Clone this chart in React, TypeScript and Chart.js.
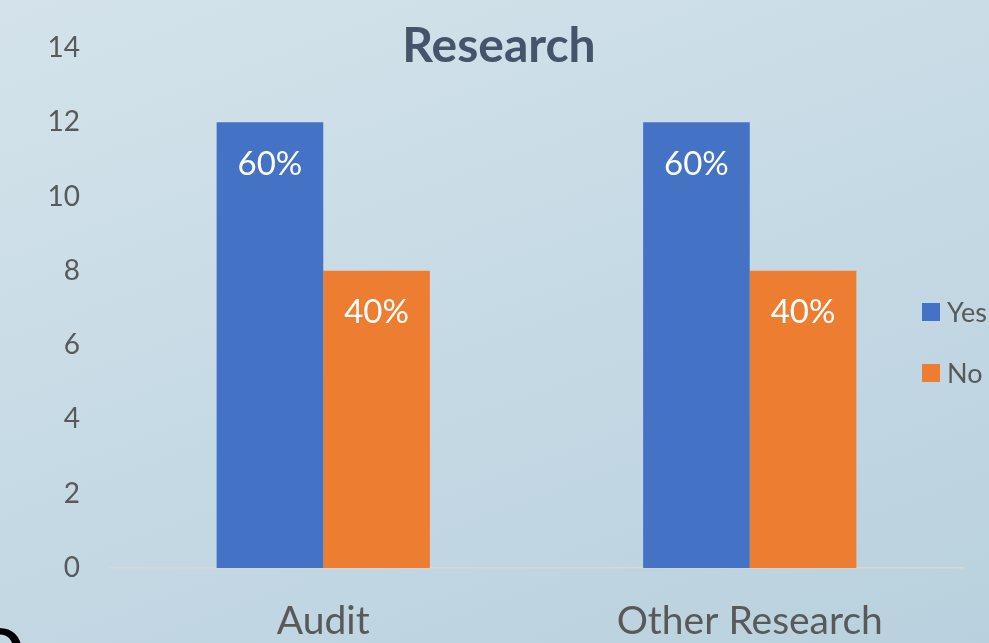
import React, { useEffect, useRef } from "react";
import { Chart, registerables } from "chart.js";

Chart.register(...registerables);

const categories = ["Audit", "Other Research"];
const yesValues = [12, 12];
const noValues = [8, 8];
const seriesLabels = ["Yes", "No"];
const yTicks = [0, 2, 4, 6, 8, 10, 12, 14];
const chartTitle = "Research";

const FONT = "Lato, 'Open Sans', sans-serif";
const BLUE = "#4472C4";
const ORANGE = "#ED7D31";
const GREY = "#595959";

const overlayPlugin = {
  id: "overlay",
  afterDatasetsDraw(chart: any) {
    const ctx = chart.ctx;
    const ds = chart.data.datasets;
    ctx.save();
    ctx.fillStyle = "#FFFFFF";
    ctx.font = `33px ${FONT}`;
    ctx.textAlign = "center";
    ctx.textBaseline = "middle";
    ds.forEach((d: any, di: number) => {
      const meta = chart.getDatasetMeta(di);
      meta.data.forEach((el: any, i: number) => {
        const total = ds.reduce((s: number, dd: any) => s + dd.data[i], 0);
        const pct = Math.round((d.data[i] / total) * 100) + "%";
        ctx.fillText(pct, el.x, el.y + 42);
      });
    });
    ctx.restore();
  },
  afterDraw(chart: any) {
    const ctx = chart.ctx;
    const ca = chart.chartArea;
    ctx.save();
    // title
    ctx.fillStyle = "#44546A";
    ctx.font = `bold 48px ${FONT}`;
    ctx.textAlign = "center";
    ctx.textBaseline = "alphabetic";
    ctx.fillText(chartTitle, 499, 62);
    // legend
    const lx = ca.right - 41;
    const ys = [312, 373];
    chart.data.datasets.forEach((d: any, i: number) => {
      ctx.fillStyle = d.backgroundColor;
      ctx.fillRect(lx, ys[i] - 9, 18, 18);
      ctx.fillStyle = GREY;
      ctx.font = `27px ${FONT}`;
      ctx.textAlign = "left";
      ctx.textBaseline = "middle";
      ctx.fillText(d.label, lx + 25, ys[i] + 1);
    });
    ctx.restore();
  },
};

export default function App() {
  const ref = useRef<HTMLCanvasElement>(null);
  useEffect(() => {
    document.body.style.margin = "0";
    const chart = new Chart(ref.current as HTMLCanvasElement, {
      type: "bar",
      data: {
        labels: categories,
        datasets: [
          { label: seriesLabels[0], data: yesValues, backgroundColor: BLUE },
          { label: seriesLabels[1], data: noValues, backgroundColor: ORANGE },
        ],
      },
      options: {
        animation: false,
        responsive: false,
        layout: { padding: { top: 48, right: 26, left: 0, bottom: 0 } },
        datasets: {
          bar: { categoryPercentage: 0.5, barPercentage: 1.0 },
        },
        plugins: {
          legend: { display: false },
          title: { display: false },
          tooltip: { enabled: false },
        },
        scales: {
          x: {
            grid: { display: false, drawTicks: false },
            border: { display: true, color: "#DCD6D0", width: 1.5 },
            ticks: { color: GREY, font: { family: FONT, size: 39 }, padding: 30 },
            afterFit: (s: any) => {
              s.height = 75;
            },
          },
          y: {
            min: 0,
            max: 14,
            grid: { display: false, drawTicks: false },
            border: { display: false },
            afterBuildTicks: (s: any) => {
              s.ticks = yTicks.map((v) => ({ value: v }));
            },
            ticks: { color: GREY, font: { family: FONT, size: 28 }, padding: 30 },
            afterFit: (s: any) => {
              s.width = 110;
            },
          },
        },
      },
      plugins: [overlayPlugin],
    });
    return () => chart.destroy();
  }, []);
  return (
    <div
      style={{
        position: "fixed",
        left: 0,
        top: 0,
        width: 989,
        height: 643,
        overflow: "hidden",
        background: "linear-gradient(160deg, #D4E3EB 0%, #C6DAE5 50%, #B9D1DE 100%)",
      }}
    >
      <canvas ref={ref} width={989} height={643} style={{ display: "block" }} />
      <span
        style={{
          position: "absolute",
          left: -22,
          top: 618,
          fontFamily: FONT,
          fontWeight: "bold",
          fontSize: 60,
          lineHeight: "60px",
          color: "#000",
        }}
      >
        D
      </span>
    </div>
  );
}
